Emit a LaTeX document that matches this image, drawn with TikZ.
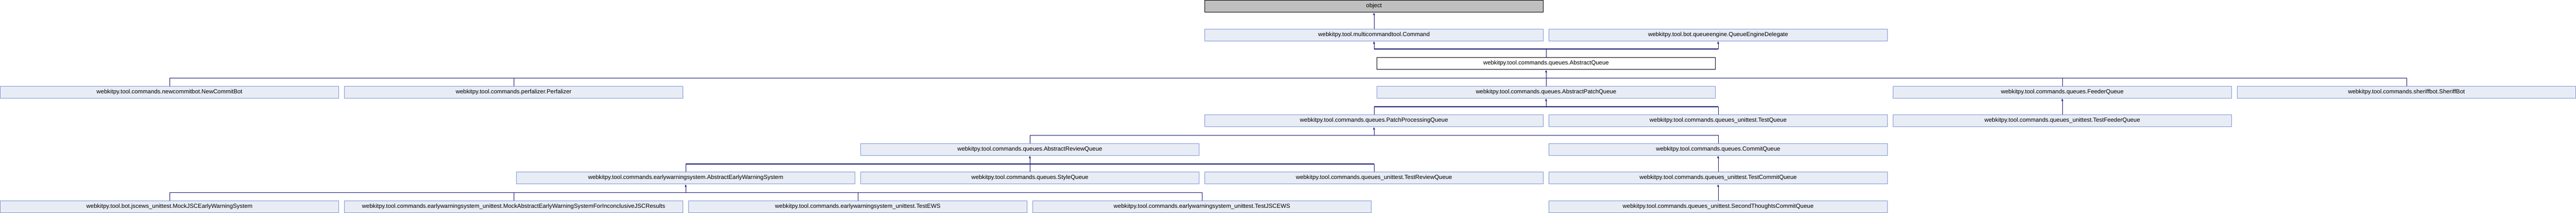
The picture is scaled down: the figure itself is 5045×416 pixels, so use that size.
\documentclass[tikz,border=0pt]{standalone}
\usepackage{fontspec}
\setmainfont{Liberation Sans}
\usepackage{tikz}
\usetikzlibrary{arrows.meta, calc}
\definecolor{edgeblue}{RGB}{25, 25, 112}
\definecolor{clsline}{RGB}{126, 150, 214}
\definecolor{clsfill}{RGB}{232, 236, 245}

\begin{document}
\begin{tikzpicture}[
  x=337pt, y=-56pt,
  cls/.style={rectangle, draw=clsline, fill=clsfill, line width=0.8pt, anchor=north west,
              minimum width=663pt, minimum height=23.5pt, inner sep=0pt,
              font=\fontsize{11.5}{13}\selectfont},
  rootcls/.style={cls, draw=black, fill=black!25},
  plaincls/.style={cls, draw=black, fill=white},
  arrow/.style={-{Latex[length=5pt, width=4pt]}, line width=0.8pt, color=edgeblue},
  link/.style={line width=0.8pt, color=edgeblue},
  bus/.style={line width=1.4pt, color=edgeblue}
]
\useasboundingbox (0pt,0pt) rectangle (5045pt,-416pt);

\node[rootcls] (object) at (7,0) {object};

\node[cls] (command) at (7,1) {webkitpy.tool.multicommandtool.Command};
\node[cls] (qed) at (9,1) {webkitpy.tool.bot.queueengine.QueueEngineDelegate};

\node[plaincls] (abstractqueue) at (8,2) {webkitpy.tool.commands.queues.AbstractQueue};

\node[cls] (newcommitbot) at (0,3) {webkitpy.tool.commands.newcommitbot.NewCommitBot};
\node[cls] (perfalizer) at (2,3) {webkitpy.tool.commands.perfalizer.Perfalizer};
\node[cls] (abstractpatchqueue) at (8,3) {webkitpy.tool.commands.queues.AbstractPatchQueue};
\node[cls] (feederqueue) at (11,3) {webkitpy.tool.commands.queues.FeederQueue};
\node[cls] (sheriffbot) at (13,3) {webkitpy.tool.commands.sheriffbot.SheriffBot};

\node[cls] (patchprocessingqueue) at (7,4) {webkitpy.tool.commands.queues.PatchProcessingQueue};
\node[cls] (testqueue) at (9,4) {webkitpy.tool.commands.queues\_unittest.TestQueue};
\node[cls] (testfeederqueue) at (11,4) {webkitpy.tool.commands.queues\_unittest.TestFeederQueue};

\node[cls] (abstractreviewqueue) at (5,5) {webkitpy.tool.commands.queues.AbstractReviewQueue};
\node[cls] (commitqueue) at (9,5) {webkitpy.tool.commands.queues.CommitQueue};

\node[cls] (abstractews) at (3,6) {webkitpy.tool.commands.earlywarningsystem.AbstractEarlyWarningSystem};
\node[cls] (stylequeue) at (5,6) {webkitpy.tool.commands.queues.StyleQueue};
\node[cls] (testreviewqueue) at (7,6) {webkitpy.tool.commands.queues\_unittest.TestReviewQueue};
\node[cls] (testcommitqueue) at (9,6) {webkitpy.tool.commands.queues\_unittest.TestCommitQueue};

\node[cls] (mockjscews) at (0,7) {webkitpy.tool.bot.jscews\_unittest.MockJSCEarlyWarningSystem};
\node[cls] (mockinconclusive) at (2,7) {webkitpy.tool.commands.earlywarningsystem\_unittest.MockAbstractEarlyWarningSystemForInconclusiveJSCResults};
\node[cls] (testews) at (4,7) {webkitpy.tool.commands.earlywarningsystem\_unittest.TestEWS};
\node[cls] (testjscews) at (6,7) {webkitpy.tool.commands.earlywarningsystem\_unittest.TestJSCEWS};
\node[cls] (secondthoughts) at (9,7) {webkitpy.tool.commands.queues\_unittest.SecondThoughtsCommitQueue};

% single base class
\draw[arrow] (command.north) -- (object.south);
\draw[arrow] (testfeederqueue.north) -- (feederqueue.south);
\draw[arrow] (testcommitqueue.north) -- (commitqueue.south);
\draw[arrow] (secondthoughts.north) -- (testcommitqueue.south);

% AbstractQueue has two bases
\coordinate (jbase) at ($(abstractqueue.north)+(0,16pt)$);
\draw[link] (abstractqueue.north) -- (jbase);
\draw[bus] (command.south |- jbase) -- (qed.south |- jbase);
\draw[arrow] (command.south |- jbase) -- (command.south);
\draw[arrow] (qed.south |- jbase) -- (qed.south);

% subclasses of AbstractQueue
\coordinate (jqueue) at ($(abstractqueue.south)+(0,-16.5pt)$);
\draw[arrow] (jqueue) -- (abstractqueue.south);
\draw[bus] (newcommitbot.north |- jqueue) -- (sheriffbot.north |- jqueue);
\draw[link] (newcommitbot.north) -- (newcommitbot.north |- jqueue);
\draw[link] (perfalizer.north) -- (perfalizer.north |- jqueue);
\draw[link] (abstractpatchqueue.north) -- (jqueue);
\draw[link] (feederqueue.north) -- (feederqueue.north |- jqueue);
\draw[link] (sheriffbot.north) -- (sheriffbot.north |- jqueue);

% subclasses of AbstractPatchQueue
\coordinate (jpatch) at ($(abstractpatchqueue.south)+(0,-16.5pt)$);
\draw[arrow] (jpatch) -- (abstractpatchqueue.south);
\draw[bus] (patchprocessingqueue.north |- jpatch) -- (testqueue.north |- jpatch);
\draw[link] (patchprocessingqueue.north) -- (patchprocessingqueue.north |- jpatch);
\draw[link] (testqueue.north) -- (testqueue.north |- jpatch);

% subclasses of PatchProcessingQueue
\coordinate (jprocess) at ($(patchprocessingqueue.south)+(0,-16.5pt)$);
\draw[arrow] (jprocess) -- (patchprocessingqueue.south);
\draw[bus] (abstractreviewqueue.north |- jprocess) -- (commitqueue.north |- jprocess);
\draw[link] (abstractreviewqueue.north) -- (abstractreviewqueue.north |- jprocess);
\draw[link] (commitqueue.north) -- (commitqueue.north |- jprocess);

% subclasses of AbstractReviewQueue
\coordinate (jreview) at ($(abstractreviewqueue.south)+(0,-16.5pt)$);
\draw[arrow] (jreview) -- (abstractreviewqueue.south);
\draw[bus] (abstractews.north |- jreview) -- (testreviewqueue.north |- jreview);
\draw[link] (abstractews.north) -- (abstractews.north |- jreview);
\draw[link] (stylequeue.north) -- (jreview);
\draw[link] (testreviewqueue.north) -- (testreviewqueue.north |- jreview);

% subclasses of AbstractEarlyWarningSystem
\coordinate (jews) at ($(abstractews.south)+(0,-16.5pt)$);
\draw[arrow] (jews) -- (abstractews.south);
\draw[bus] (mockjscews.north |- jews) -- (testjscews.north |- jews);
\draw[link] (mockjscews.north) -- (mockjscews.north |- jews);
\draw[link] (mockinconclusive.north) -- (mockinconclusive.north |- jews);
\draw[link] (testews.north) -- (testews.north |- jews);
\draw[link] (testjscews.north) -- (testjscews.north |- jews);

\end{tikzpicture}
\end{document}
